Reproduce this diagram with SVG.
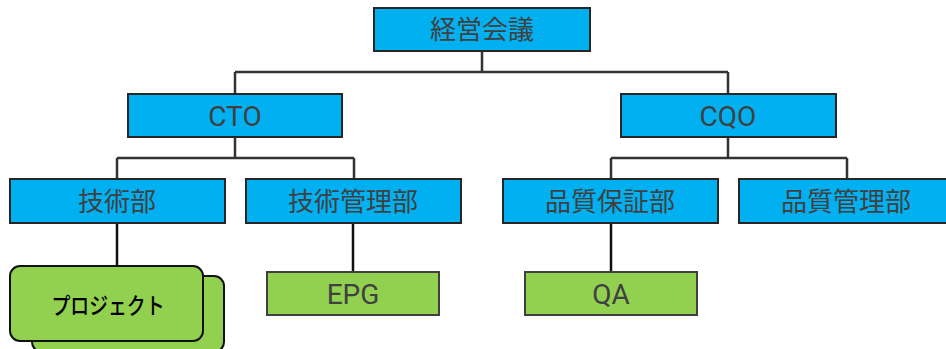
<svg xmlns="http://www.w3.org/2000/svg" width="946" height="349" viewBox="0 0 946 349">
<style>
.blue{fill:#00B0F0;stroke:#262626;stroke-width:2}
.green{fill:#92D050;stroke:#404040;stroke-width:2}
.proj{fill:#92D050;stroke:#111;stroke-width:2}
.t{font-family:Roboto,"Noto Sans CJK JP",sans-serif;font-size:26px;fill:#404040;text-anchor:middle;dominant-baseline:central}
.l{font-size:28px}
.tp{font-family:"Noto Sans CJK JP",sans-serif;font-size:23px;font-weight:500;fill:#000;text-anchor:middle;dominant-baseline:central}
.c1{fill:none;stroke:#333;stroke-width:2.5}
.c2{fill:none;stroke:#111;stroke-width:2.5}
</style>
<rect width="946" height="349" fill="#fff"/>
<g id="connectors">
<path class="c1" d="M482 51V72M235 72H728M235 72V94M728 72V94"/>
<path class="c1" d="M235 137V158M117 158H354M117 158V179M354 158V179"/>
<path class="c1" d="M728 137V158M611 158H847M611 158V179M847 158V179"/>
<path class="c2" d="M117 223V266M353 223V272M611 223V272"/>
</g>
<g id="n-keiei"><rect class="blue" x="374" y="8" width="216" height="43"/><text class="t" x="482" y="30">経営会議</text></g>
<g id="n-cto"><rect class="blue" x="128" y="94" width="214" height="43"/><text class="t l" x="235" y="116">CTO</text></g>
<g id="n-cqo"><rect class="blue" x="621" y="94" width="215" height="43"/><text class="t l" x="728" y="116">CQO</text></g>
<g id="n-gijutsu"><rect class="blue" x="10" y="179" width="215" height="44"/><text class="t" x="117" y="202">技術部</text></g>
<g id="n-gijutsukanri"><rect class="blue" x="246" y="179" width="215" height="44"/><text class="t" x="353" y="202">技術管理部</text></g>
<g id="n-hinshitsuhosho"><rect class="blue" x="503" y="179" width="215" height="44"/><text class="t" x="610" y="202">品質保証部</text></g>
<g id="n-hinshitsukanri"><rect class="blue" x="739" y="179" width="215" height="44"/><text class="t" x="846" y="202">品質管理部</text></g>
<g id="n-project"><rect class="proj" x="32" y="276" width="192" height="76" rx="10"/><rect class="proj" x="10" y="266" width="193" height="75" rx="10"/><text class="tp" transform="translate(108 304) scale(0.82 1)">プロジェクト</text></g>
<g id="n-epg"><rect class="green" x="267" y="272" width="172" height="43"/><text class="t l" x="353" y="294">EPG</text></g>
<g id="n-qa"><rect class="green" x="525" y="272" width="172" height="43"/><text class="t l" x="611" y="294">QA</text></g>
</svg>
